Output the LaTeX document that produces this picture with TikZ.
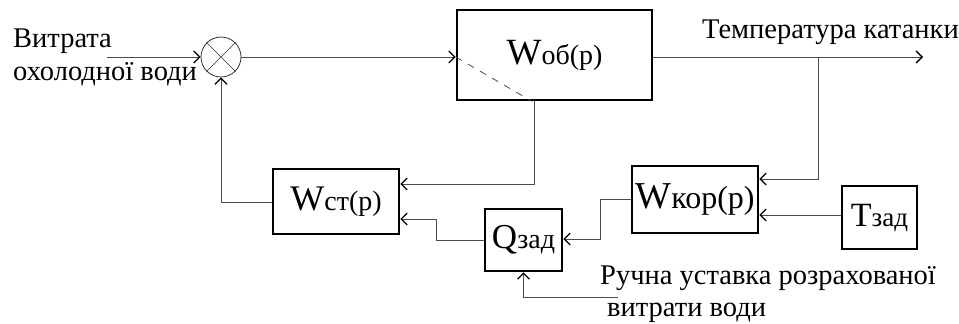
\documentclass[tikz,border=0pt]{standalone}
\usepackage{fontspec}
\setmainfont{Liberation Serif}
\usetikzlibrary{arrows.meta}
\begin{document}
\begin{tikzpicture}[x=1pt,y=-1pt,
  blk/.style={draw=black, line width=2.6pt, inner sep=0pt, fill=white},
  ln/.style={draw=black!70, line width=1pt},
  arr/.style={ln, -{Straight Barb[length=6pt,width=12pt,line width=1.3pt,black]}},
  lbl/.style={font=\fontsize{28.5}{32}\selectfont, inner sep=0pt, anchor=base west}]
\useasboundingbox (0,0) rectangle (959,324);

% summing junction and blocks
\node[draw=black!80, line width=0.8pt, circle, minimum size=40pt, inner sep=0pt] (sum) at (221,57) {};
\draw[black!80, line width=0.6pt] (sum.north east) -- (sum.south west) (sum.north west) -- (sum.south east);
\node[blk, minimum width=195pt, minimum height=90pt] (wob) at (554.5,55)
  {{\fontsize{37}{40}\selectfont W}{\fontsize{28}{32}\selectfont об(p)}};
\node[blk, minimum width=126pt, minimum height=65pt] (wst) at (336,201.5)
  {{\fontsize{36}{40}\selectfont W}{\fontsize{28}{32}\selectfont ст(p)}};
\node[blk, minimum width=126pt, minimum height=67pt] (wkor) at (695,199.5)
  {{\fontsize{38}{42}\selectfont W}{\fontsize{32}{36}\selectfont кор(p)}};
\node[blk, minimum width=75pt, minimum height=63pt] (tz) at (879.5,217.5)
  {{\fontsize{34}{38}\selectfont T}{\fontsize{27}{30}\selectfont зад}};
\node[blk, minimum width=77pt, minimum height=62pt] (qz) at (523.5,240)
  {{\fontsize{35}{38}\selectfont Q}{\fontsize{28}{30}\selectfont зад}};

% labels
\node[lbl] (t1) at (13,47) {Витрата};
\node[lbl] (t2) at (13,80) {охолодної води};
\node[lbl] (t3) at (702,38) {Температура катанки};
\node[lbl] (t4) at (600,284) {Ручна уставка розрахованої};
\node[lbl] (t5) at (607,316) {витрати води};

% free ends
\coordinate (in) at (107,57);
\coordinate (out) at (923,57);
\coordinate (tap) at (818,57);
\coordinate (man) at (618,297);

% connectors
\draw[arr] (in) -- (sum.west);
\draw[arr] (sum.east) -- (sum.east -| wob.west);
\draw[arr] (wob.east |- 0,57) -- (out);
\draw[arr] (tap) |- (wkor.east |- 0,179);
\draw[arr] (tz.west |- 0,215) -- (wkor.east |- 0,215);
\draw[arr] (wkor.west |- 0,199) -- (600,199) -- (600,239) -- (qz.east |- 0,239);
\draw[arr] (qz.west |- 0,240) -- (436,240) -- (436,219) -- (wst.east |- 0,219);
\draw[arr] (wob.south -| 534,0) |- (wst.east |- 0,184);
\draw[arr] (wst.west |- 0,202) -| (sum.south);
\draw[arr] (man) -| (qz.south);

% dashed diagonal inside the plant block
\draw[black!70, line width=0.8pt, dash pattern=on 7pt off 7pt] (wob.west |- 0,57) -- (wob.south -| 532,0);
\end{tikzpicture}
\end{document}
